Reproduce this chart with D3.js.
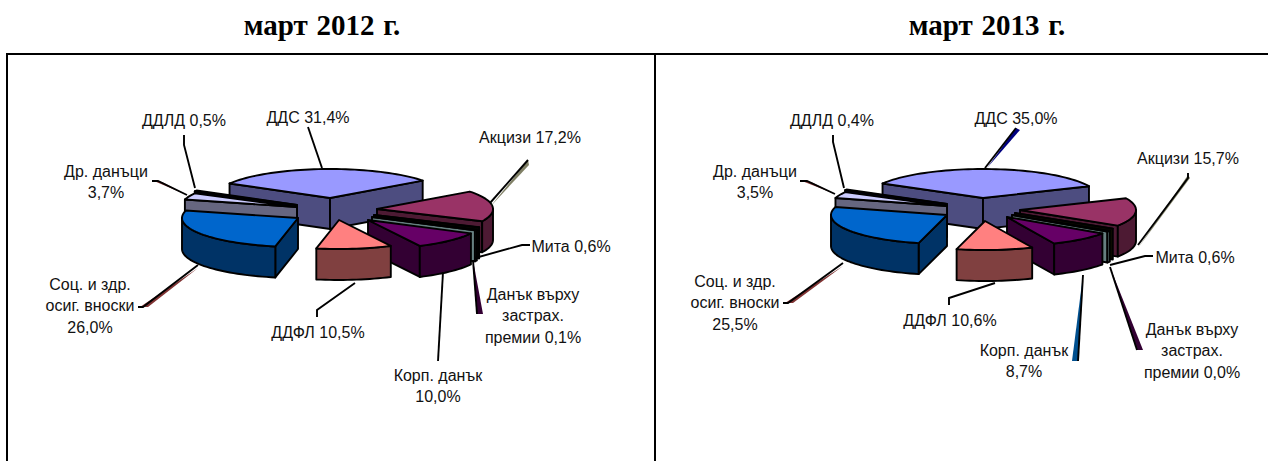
<!DOCTYPE html>
<html>
<head>
<meta charset="utf-8">
<script src="https://d3js.org/d3.v7.min.js"></script>
<style>
  html, body { margin: 0; padding: 0; background: #fff; }
  text { font-family: "Liberation Sans", Arial, sans-serif; font-size: 16px; fill: #111; }
  text.title { font-family: "Liberation Serif", "Times New Roman", serif; font-size: 29px; font-weight: bold; fill: #000; word-spacing: 1.5px; }
</style>
</head>
<body>
<svg id="chart" width="1268" height="461" style="display:block"></svg>
<script>
// slice order follows the drawing clockwise from the left edge of ДДС
const categories = ["ДДС", "Акцизи", "Данък върху застрах. премии", "Мита", "Корп. данък", "ДДФЛ", "Соц. и здр. осиг. вноски", "Др. данъци", "ДДЛД"]
const values2012 = [31.4, 17.2, 0.1, 0.6, 10.0, 10.5, 26.0, 3.7, 0.5]
const values2013 = [35.0, 15.7, 0.0, 0.6, 8.7, 10.6, 25.5, 3.5, 0.4]
const topColors = ["#9999ff", "#993366", "#1a1a00", "#ccffff", "#660066", "#ff8080", "#0066cc", "#ccccff", "#000080"]

// labels, one array per panel: [x, y, lines...]
const labels2012 = [
  [308, 117, "ДДС 31,4%"],
  [184, 120, "ДДЛД 0,5%"],
  [106, 171, "Др. данъци", "3,7%"],
  [530, 137, "Акцизи 17,2%"],
  [571, 246, "Мита 0,6%"],
  [533, 294, "Данък върху", "застрах.", "премии 0,1%"],
  [438, 375, "Корп. данък", "10,0%"],
  [318, 332, "ДДФЛ 10,5%"],
  [90, 284, "Соц. и здр.", "осиг. вноски", "26,0%"]
]
const labels2013 = [
  [1016, 118, "ДДС 35,0%"],
  [832, 120, "ДДЛД 0,4%"],
  [755, 171, "Др. данъци", "3,5%"],
  [1188, 158, "Акцизи 15,7%"],
  [1195, 257, "Мита 0,6%"],
  [1192, 329, "Данък върху", "застрах.", "премии 0,0%"],
  [1024, 350, "Корп. данък", "8,7%"],
  [950, 320, "ДДФЛ 10,6%"],
  [735, 281, "Соц. и здр.", "осиг. вноски", "25,5%"]
]

// pie layout
const RADIUS = 116
const SQUASH = 0.25
const DEPTH = 31
const START = -60 * Math.PI / 180
const DRAW_ORDER = [0, 1, 2, 3, 4, 8, 7, 6, 5]

const panel2012 = {
  title: "март 2012 г.", titleX: 322, cx: 335, cy: 208, values: values2012, labels: labels2012,
  explodeX: [-5, 42, 39, 37, 33, 4, -37, -38, -38],
  explodeY: [-10, 1, 7, 9, 12, 12, 10, -1, -3],
  leaders: [
    [[308, 127], [322, 168]],
    [[184, 135], [184, 145], [195, 188]],
    [[152, 181], [158, 181], [187, 195]],
    [[138, 307], [143, 307], [198, 265]],
    [[317, 317], [317, 310], [355, 283]],
    [[438, 361], [443, 272]],
    [[473, 260], [477, 314]],
    [[530, 245], [522, 245], [475, 258]],
    [[528, 160], [490, 203]]
  ],
  wedges: [
    { color: "#803333", points: [[140, 307], [148, 307], [198, 268]] },
    { color: "#803333", points: [[154, 181], [162, 182], [187, 195]] },
    { color: "#330033", points: [[473, 260], [477, 314], [483, 314]] },
    { color: "#808066", points: [[528, 160], [529, 165], [490, 207]] }
  ]
}

const panel2013 = {
  title: "март 2013 г.", titleX: 987, cx: 990, cy: 208, values: values2013, labels: labels2013,
  explodeX: [-7, 30, 25, 22, 17, -5, -43, -43, -43],
  explodeY: [-10, 2, 5, 7, 9, 13, 7, -2, -4],
  leaders: [
    [[1016, 128], [985, 168]],
    [[833, 135], [833, 142], [844, 188]],
    [[800, 181], [807, 181], [835, 194]],
    [[783, 303], [788, 303], [843, 263]],
    [[949, 305], [949, 298], [995, 283]],
    [[1078, 361], [1083, 275]],
    [[1110, 267], [1137, 350]],
    [[1153, 256], [1145, 256], [1110, 265]],
    [[1188, 173], [1188, 178], [1138, 245]]
  ],
  wedges: [
    { color: "#000080", points: [[1016, 128], [1020, 130], [987, 168]] },
    { color: "#803333", points: [[785, 303], [793, 303], [843, 266]] },
    { color: "#803333", points: [[802, 181], [811, 182], [835, 194]] },
    { color: "#00508f", points: [[1072, 361], [1078, 361], [1083, 275]] },
    { color: "#330033", points: [[1110, 267], [1137, 350], [1143, 350]] },
    { color: "#808066", points: [[1188, 175], [1190, 178], [1138, 248]] }
  ]
}

const svg = d3.select("#chart")
const line = d3.line()
const closed = pts => line(pts) + "Z"
const halfTone = hex => {
  const c = d3.rgb(hex)
  return d3.rgb(c.r / 2, c.g / 2, c.b / 2).formatHex()
}

function rim(ox, oy, from, to, drop) {
  const n = Math.max(2, Math.ceil((to - from) / 0.04))
  return d3.range(n + 1).map(i => {
    const a = from + (to - from) * i / n
    return [ox + RADIUS * Math.sin(a), oy - RADIUS * SQUASH * Math.cos(a) + drop]
  })
}

function drawSlice(g, slice, i, panel) {
  const ox = panel.cx + panel.explodeX[i]
  const oy = panel.cy + panel.explodeY[i]
  const a0 = slice.startAngle
  const a1 = slice.endAngle
  const side = halfTone(topColors[i])
  const s = g.append("g")
    .attr("stroke", "#000")
    .attr("stroke-width", 1.9)
    .attr("stroke-linejoin", "round")

  // radial cut faces which look at the viewer
  const face = a => {
    const p = rim(ox, oy, a, a, 0)[0]
    s.append("path")
      .attr("d", closed([[ox, oy], p, [p[0], p[1] + DEPTH], [ox, oy + DEPTH]]))
      .attr("fill", side)
  }
  if (Math.sin(a0) < 0) face(a0)
  if (Math.sin(a1) > 0) face(a1)

  // outer wall, only the part on the near half of the ellipse
  const from = Math.max(a0, Math.PI / 2)
  const to = Math.min(a1, Math.PI * 3 / 2)
  if (to > from) {
    const upper = rim(ox, oy, from, to, 0)
    const lower = rim(ox, oy, from, to, DEPTH).reverse()
    s.append("path").attr("d", closed(upper.concat(lower))).attr("fill", side)
  }

  // top surface
  s.append("path")
    .attr("d", closed([[ox, oy]].concat(rim(ox, oy, a0, a1, 0))))
    .attr("fill", topColors[i])
}

function drawPanel(panel) {
  const g = svg.append("g")
  const arcs = d3.pie().sort(null).value(d => d)
    .startAngle(START).endAngle(START + Math.PI * 2)(panel.values)

  DRAW_ORDER.forEach(i => drawSlice(g, arcs[i], i, panel))

  g.selectAll("path.wedge").data(panel.wedges).join("path")
    .attr("class", "wedge")
    .attr("d", d => closed(d.points))
    .attr("fill", d => d.color)

  g.selectAll("path.leader").data(panel.leaders).join("path")
    .attr("class", "leader")
    .attr("d", d => line(d))
    .attr("fill", "none")
    .attr("stroke", "#000")
    .attr("stroke-width", 1.9)

  panel.labels.forEach(([x, y, ...rows]) => {
    rows.forEach((row, r) => {
      g.append("text")
        .attr("x", x)
        .attr("y", y + r * 21.5)
        .attr("dy", "0.35em")
        .attr("text-anchor", "middle")
        .text(row)
    })
  })

  svg.append("text")
    .attr("class", "title")
    .attr("x", panel.titleX)
    .attr("y", 35)
    .attr("text-anchor", "middle")
    .text(panel.title)
}

// frame round both panels, runs off the bottom and right of the page
svg.append("path")
  .attr("d", "M7 470V54H1270M655 54V470")
  .attr("fill", "none")
  .attr("stroke", "#000")
  .attr("stroke-width", 2)

drawPanel(panel2012)
drawPanel(panel2013)
</script>
</body>
</html>
